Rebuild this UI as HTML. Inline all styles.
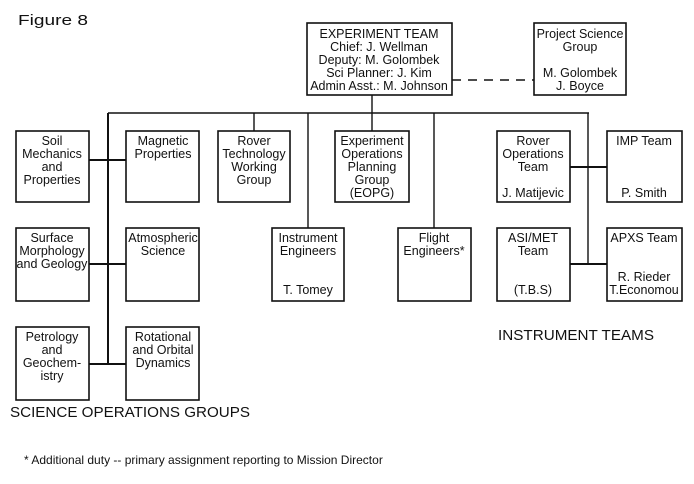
<!DOCTYPE html>
<html><head><style>
html,body{margin:0;padding:0;background:#fff;}
svg{display:block;}
text{font-family:"Liberation Sans",sans-serif;font-size:12.5px;fill:#111;text-anchor:middle;}
.t{font-size:15px;text-anchor:start;}
.f{font-size:12px;text-anchor:start;}
rect{fill:#fff;stroke:#111;stroke-width:1.6;}
line{stroke:#111;stroke-width:1.4;}
</style></head><body>
<svg width="694" height="484" viewBox="0 0 694 484">
<text class="t" x="18" y="25" textLength="70" lengthAdjust="spacingAndGlyphs">Figure 8</text>
<line x1="452" y1="80" x2="534" y2="80" stroke-dasharray="9,7"/>
<line x1="372" y1="95" x2="372" y2="131"/>
<line x1="108" y1="113" x2="589" y2="113"/>
<line x1="108" y1="113" x2="108" y2="364" style="stroke-width:2"/>
<line x1="254" y1="113" x2="254" y2="131"/>
<line x1="308" y1="113" x2="308" y2="228"/>
<line x1="434" y1="113" x2="434" y2="228"/>
<line x1="588" y1="113" x2="588" y2="264"/>
<line x1="89" y1="160" x2="126" y2="160" style="stroke-width:2"/>
<line x1="89" y1="264" x2="126" y2="264" style="stroke-width:2"/>
<line x1="89" y1="364" x2="126" y2="364" style="stroke-width:2"/>
<line x1="570" y1="167" x2="607" y2="167" style="stroke-width:2"/>
<line x1="570" y1="264" x2="607" y2="264" style="stroke-width:2"/>
<rect x="307" y="23" width="145" height="72"/>
<text x="379" y="38">EXPERIMENT TEAM</text>
<text x="379" y="51">Chief: J. Wellman</text>
<text x="379" y="64">Deputy: M. Golombek</text>
<text x="379" y="77">Sci Planner: J. Kim</text>
<text x="379" y="90">Admin Asst.: M. Johnson</text>
<rect x="534" y="23" width="92" height="72"/>
<text x="580" y="38">Project Science</text>
<text x="580" y="51">Group</text>
<text x="580" y="77">M. Golombek</text>
<text x="580" y="90">J. Boyce</text>
<rect x="16" y="131" width="73" height="71"/>
<text x="52" y="145">Soil</text><text x="52" y="158">Mechanics</text><text x="52" y="171">and</text><text x="52" y="184">Properties</text>
<rect x="126" y="131" width="73" height="71"/>
<text x="163" y="145">Magnetic</text><text x="163" y="158">Properties</text>
<rect x="218" y="131" width="72" height="71"/>
<text x="254" y="145">Rover</text><text x="254" y="158">Technology</text><text x="254" y="171">Working</text><text x="254" y="184">Group</text>
<rect x="335" y="131" width="74" height="71"/>
<text x="372" y="145">Experiment</text><text x="372" y="158">Operations</text><text x="372" y="171">Planning</text><text x="372" y="184">Group</text><text x="372" y="197">(EOPG)</text>
<rect x="497" y="131" width="73" height="71"/>
<text x="533" y="145">Rover</text><text x="533" y="158">Operations</text><text x="533" y="171">Team</text><text x="533" y="197">J. Matijevic</text>
<rect x="607" y="131" width="75" height="71"/>
<text x="644" y="145">IMP Team</text><text x="644" y="197">P. Smith</text>
<rect x="16" y="228" width="73" height="73"/>
<text x="52" y="242">Surface</text><text x="52" y="255">Morphology</text><text x="52" y="268">and Geology</text>
<rect x="126" y="228" width="73" height="73"/>
<text x="163" y="242">Atmospheric</text><text x="163" y="255">Science</text>
<rect x="272" y="228" width="72" height="73"/>
<text x="308" y="242">Instrument</text><text x="308" y="255">Engineers</text><text x="308" y="294">T. Tomey</text>
<rect x="398" y="228" width="73" height="73"/>
<text x="434" y="242">Flight</text><text x="434" y="255">Engineers*</text>
<rect x="497" y="228" width="73" height="73"/>
<text x="533" y="242">ASI/MET</text><text x="533" y="255">Team</text><text x="533" y="294">(T.B.S)</text>
<rect x="607" y="228" width="75" height="73"/>
<text x="644" y="242">APXS Team</text><text x="644" y="281">R. Rieder</text><text x="644" y="294">T.Economou</text>
<rect x="16" y="327" width="73" height="73"/>
<text x="52" y="341">Petrology</text><text x="52" y="354">and</text><text x="52" y="367">Geochem-</text><text x="52" y="380">istry</text>
<rect x="126" y="327" width="73" height="73"/>
<text x="163" y="341">Rotational</text><text x="163" y="354">and Orbital</text><text x="163" y="367">Dynamics</text>
<text class="t" x="498" y="340" textLength="156" lengthAdjust="spacingAndGlyphs">INSTRUMENT TEAMS</text>
<text class="t" x="10" y="417" textLength="240" lengthAdjust="spacingAndGlyphs">SCIENCE OPERATIONS GROUPS</text>
<text class="f" x="24" y="464">*  Additional duty -- primary assignment reporting to Mission Director</text>
</svg>
</body></html>
